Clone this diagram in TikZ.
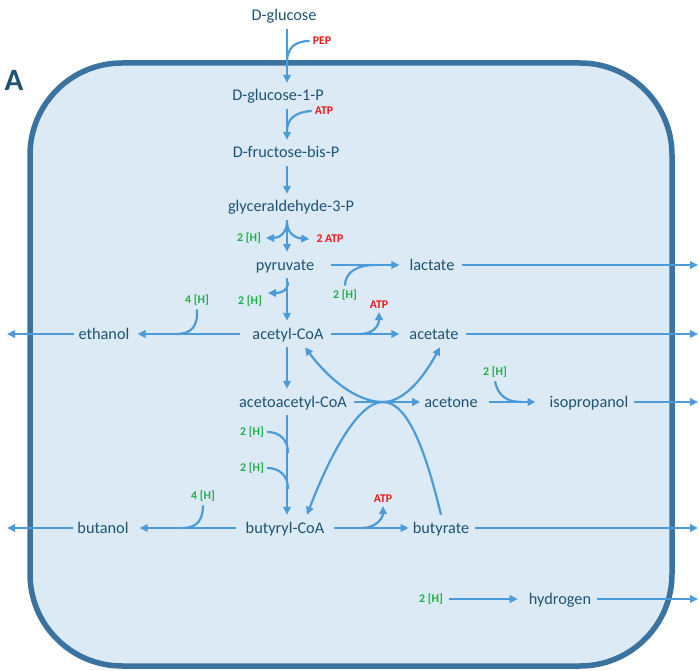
\documentclass[tikz,border=0pt]{standalone}
\usepackage{fontspec}
\setmainfont{Carlito}
\usetikzlibrary{arrows.meta}
\definecolor{cellfill}{HTML}{DCEAF6}
\definecolor{cellline}{HTML}{3A73A0}
\definecolor{arr}{HTML}{4C9BD8}
\definecolor{txt}{HTML}{1E5373}
\definecolor{hgreen}{HTML}{1EB04A}
\definecolor{ared}{HTML}{F01818}
\begin{document}
\begin{tikzpicture}[x=1pt,y=-1pt,
  met/.style={font=\fontsize{16.3}{19}\selectfont, text=txt, inner xsep=4pt, inner ysep=5.5pt, text height=12.5pt, text depth=2.5pt},
  hyd/.style={font=\fontsize{11.8}{13}\selectfont\bfseries, text=hgreen, inner sep=0pt},
  atp/.style={font=\fontsize{11.8}{13}\selectfont\bfseries, text=ared, inner sep=0pt},
  flow/.style={draw=arr, line width=2.2pt, -{Triangle[length=8pt,width=7.5pt]}},
  side/.style={draw=arr, line width=2.2pt},
]
\useasboundingbox (0,0) rectangle (699,671);
\draw[cellline, fill=cellfill, line width=5.5pt, rounded corners=92pt] (30,63) rectangle (672,666);
\node[font=\fontsize{31}{34}\selectfont\bfseries, text=txt, inner sep=0pt] (lblA) at (14,80) {A};

% metabolites
\node[met] (glc) at (284,16) {D-glucose};
\node[met] (g1p) at (278,96) {D-glucose-1-P};
\node[met] (fbp) at (286,153) {D-fructose-bis-P};
\node[met] (g3p) at (291,207) {glyceraldehyde-3-P};
\node[met] (pyr) at (285,265) {pyruvate};
\node[met] (lac) at (432,265) {lactate};
\node[met] (acc) at (288,334) {acetyl-CoA};
\node[met] (eth) at (104,334) {ethanol};
\node[met] (ace) at (434,334) {acetate};
\node[met] (aac) at (293,402) {acetoacetyl-CoA};
\node[met] (act) at (451,402) {acetone};
\node[met] (ipr) at (589,402) {isopropanol};
\node[met] (buc) at (285,528) {butyryl-CoA};
\node[met] (but) at (103,528) {butanol};
\node[met] (bua) at (441,528) {butyrate};
\node[met] (hyd) at (560,599) {hydrogen};

% cofactors
\node[atp] (pep) at (322,41) {PEP};
\node[atp] (atp1) at (324,111) {ATP};
\node[hyd] (h1) at (249,238) {2 [H]};
\node[atp] (atp2) at (330,239) {2 ATP};
\node[hyd] (h2) at (250,301) {2 [H]};
\node[hyd] (h3) at (345,295) {2 [H]};
\node[hyd] (h4) at (197,300) {4 [H]};
\node[atp] (atp3) at (379,305) {ATP};
\node[hyd] (h5) at (495,372) {2 [H]};
\node[hyd] (h6) at (252,432) {2 [H]};
\node[hyd] (h7) at (252,468) {2 [H]};
\node[hyd] (h8) at (203,496) {4 [H]};
\node[atp] (atp4) at (383,499) {ATP};
\node[hyd] (h9) at (431,599) {2 [H]};

% helper coordinates
\coordinate (sp) at (287,0);
\coordinate (R) at (698,0);
\coordinate (L) at (7,0);
\coordinate (X) at (383,402);
\coordinate (j1) at (287,62);
\coordinate (j2) at (287,131);
\coordinate (j3) at (287,222);
\coordinate (j4) at (288,282);
\coordinate (t4) at (268,293);
\coordinate (j5) at (375,265);
\coordinate (j6) at (176,334);
\coordinate (j7) at (360,334);
\coordinate (j8) at (522,402);
\coordinate (j9) at (288,453);
\coordinate (j10) at (288,489);
\coordinate (j11) at (183,528);
\coordinate (j12) at (362,528);

% main spine
\draw[flow] (glc.south -| sp) -- (g1p.north -| sp);
\draw[flow] (g1p.south -| sp) -- (fbp.north -| sp);
\draw[flow] (fbp.south -| sp) -- (g3p.north -| sp);
\draw[flow] (g3p.south -| sp) -- (pyr.north -| sp);
\draw[flow] (pyr.south -| sp) -- (acc.north -| sp);
\draw[flow] (acc.south -| sp) -- (aac.north -| sp);
\draw[flow] (aac.south -| sp) -- (buc.north -| sp);

% side branches on spine
\draw[side] ([xshift=-3pt]pep.west) .. controls (294,41) and (287,49) .. (j1);
\draw[side] ([xshift=-3pt]atp1.west) .. controls (295,112) and (287,119) .. (j2);
\draw[flow] (j3) .. controls (287,232) and (280,238) .. ([xshift=5pt]h1.east);
\draw[flow] (j3) .. controls (287,232) and (294,238) .. ([xshift=-7pt]atp2.west);
\draw[flow] (j4) .. controls (288,291) and (281,293) .. (t4);
\draw[side] ([xshift=3pt]h6.east) .. controls (280,432) and (288,440) .. (j9);
\draw[side] ([xshift=3pt]h7.east) .. controls (280,468) and (288,476) .. (j10);

% horizontal reactions
\draw[flow, shorten <=13pt, shorten >=6pt] (pyr) -- (lac);
\draw[side] ([yshift=4pt]h3.north) .. controls (345,273) and (356,265) .. (j5);
\draw[flow, shorten <=8pt, shorten >=4pt] (acc) -- (eth);
\draw[side] ([yshift=-4pt]h4.south) .. controls (198,327) and (191,334) .. (j6);
\draw[flow, shorten <=3pt, shorten >=6pt] (acc) -- (ace);
\draw[flow] (j7) .. controls (373,334) and (379,326) .. ([yshift=-3pt]atp3.south);
\draw[flow, shorten <=3pt] (aac) -- (act);
\draw[flow, shorten <=7pt, shorten >=10pt] (act) -- (ipr);
\draw[side] ([yshift=-4pt]h5.south) .. controls (498,396) and (507,402) .. (j8);
\draw[flow, shorten <=6pt, shorten >=7pt] (buc) -- (but);
\draw[side] ([yshift=-4pt]h8.south) .. controls (203,521) and (196,528) .. (j11);
\draw[flow, shorten <=6pt] (buc) -- (bua);
\draw[flow] (j12) .. controls (376,528) and (383,518) .. ([yshift=-3pt]atp4.south);
\draw[flow, shorten <=6pt, shorten >=7pt] (h9) -- (hyd);

% crossing (CoA transfer)
\draw[flow] (X) .. controls (356,402) and (328,378) .. ([xshift=17pt]acc.south);
\draw[flow] (X) .. controls (405,402) and (425,375) .. ([xshift=6pt]ace.south);
\draw[flow] (X) .. controls (358,402) and (330,455) .. ([xshift=22pt]buc.north);
\draw[side] (bua.north) .. controls (430,470) and (412,402) .. (X);

% export arrows
\draw[flow, shorten <=3pt] (lac.east) -- (lac.east -| R);
\draw[flow, shorten <=3pt] (ace.east) -- (ace.east -| R);
\draw[flow, shorten <=2pt] (ipr.east) -- (ipr.east -| R);
\draw[flow, shorten <=2pt] (bua.east) -- (bua.east -| R);
\draw[flow, shorten <=2pt] (hyd.east) -- (hyd.east -| R);
\draw[flow] (eth.west) -- (eth.west -| L);
\draw[flow] (but.west) -- (but.west -| L);
\end{tikzpicture}
\end{document}
